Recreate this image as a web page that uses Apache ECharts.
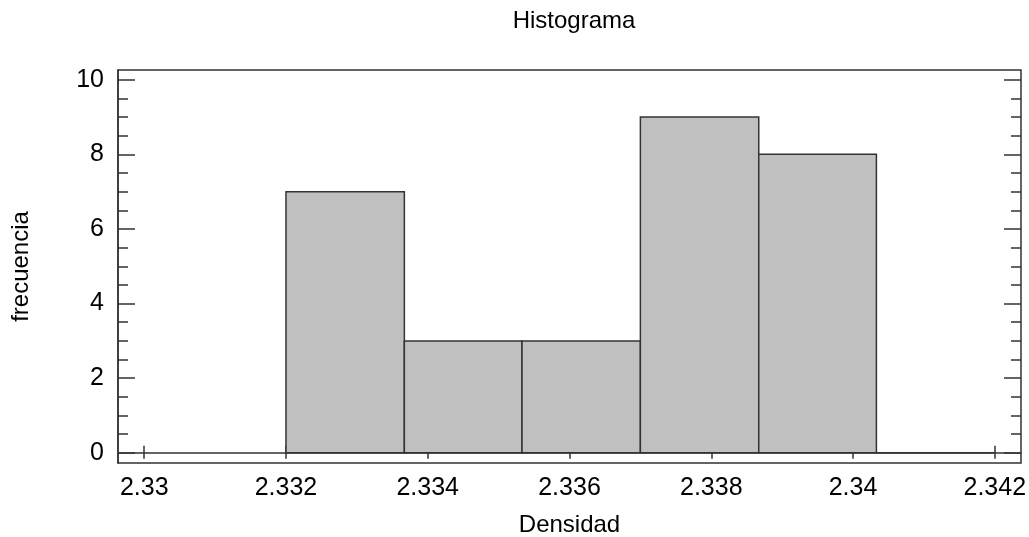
<!DOCTYPE html>
<html>
<head>
<meta charset="utf-8">
<script src="https://cdn.jsdelivr.net/npm/echarts@6/dist/echarts.min.js"></script>
<style>html,body{margin:0;padding:0;background:#fff;}#c{width:1029px;height:537px;}</style>
</head>
<body>
<div id="c"></div>
<script>
const binStart = [2.332, 2.33367, 2.33533, 2.337, 2.33867, 2.34033];
const binEnd   = [2.33367, 2.33533, 2.337, 2.33867, 2.34033, 2.342];
const counts   = [7, 3, 3, 9, 8, 0];
const xTicks = [2.33, 2.332, 2.334, 2.336, 2.338, 2.34, 2.342];
const yTicks = [0, 2, 4, 6, 8, 10];
const yMinorTicks = [0, 0.5, 1, 1.5, 2, 2.5, 3, 3.5, 4, 4.5, 5, 5.5, 6, 6.5, 7, 7.5, 8, 8.5, 9, 9.5, 10];

const FONT = 'Liberation Sans, Arial, sans-serif';
const LINE = '#333';
const xMin = 2.32963, xMax = 2.34237, yMin = -0.273, yMax = 10.26;

const chart = echarts.init(document.getElementById('c'), null, {renderer: 'canvas'});
const baseX = {type: 'value', min: xMin, max: xMax, splitLine: {show: false}};
const baseY = {type: 'value', min: yMin, max: yMax, splitLine: {show: false}};

chart.setOption({
  animation: false,
  backgroundColor: '#fff',
  title: {text: 'Histograma', left: 569, textAlign: 'center', top: 4,
    textStyle: {fontFamily: FONT, fontSize: 24, fontWeight: 'normal', color: '#000'}},
  grid: {left: 118, right: 8, top: 70, bottom: 74, show: true, borderColor: LINE, borderWidth: 1.5,
    containLabel: false, outerBoundsMode: 'none'},
  xAxis: [
    Object.assign({}, baseX, {position: 'bottom', name: 'Densidad', nameLocation: 'middle', nameGap: 50,
      nameTextStyle: {fontFamily: FONT, fontSize: 24, color: '#000'},
      axisLine: {show: true, lineStyle: {color: LINE, width: 1.5}},
      axisTick: {show: true, inside: true, length: 7, customValues: xTicks, lineStyle: {color: LINE, width: 1.5}},
      axisLabel: {show: true, margin: 13, customValues: xTicks, fontFamily: FONT, fontSize: 25, color: '#000',
        formatter: v => String(+v.toFixed(3))}}),
    Object.assign({}, baseX, {position: 'top',
      axisLine: {show: false},
      axisTick: {show: true, inside: true, length: 6, customValues: xTicks, lineStyle: {color: LINE, width: 1.5}},
      axisLabel: {show: false}})
  ],
  yAxis: [
    Object.assign({}, baseY, {position: 'left', name: 'frecuencia', nameLocation: 'middle', nameGap: 85,
      nameTextStyle: {fontFamily: FONT, fontSize: 24, color: '#000'},
      axisLine: {show: true, lineStyle: {color: LINE, width: 1.5}},
      axisTick: {show: true, inside: true, length: 17, customValues: yTicks, lineStyle: {color: LINE, width: 1.5}},
      axisLabel: {show: true, margin: 14, customValues: yTicks, fontFamily: FONT, fontSize: 25, color: '#000'}}),
    Object.assign({}, baseY, {position: 'left', offset: 0,
      axisLine: {show: false},
      axisTick: {show: true, inside: true, length: 10, customValues: yMinorTicks, lineStyle: {color: LINE, width: 1.5}},
      axisLabel: {show: false}}),
    Object.assign({}, baseY, {position: 'right',
      axisLine: {show: false},
      axisTick: {show: true, inside: true, length: 17, customValues: yTicks, lineStyle: {color: LINE, width: 1.5}},
      axisLabel: {show: false}}),
    Object.assign({}, baseY, {position: 'right',
      axisLine: {show: false},
      axisTick: {show: true, inside: true, length: 10, customValues: yMinorTicks, lineStyle: {color: LINE, width: 1.5}},
      axisLabel: {show: false}})
  ],
  series: [{
    type: 'custom',
    xAxisIndex: 0, yAxisIndex: 0,
    data: counts.map((c, i) => [binStart[i], binEnd[i], c]),
    renderItem: function (params, api) {
      const p0 = api.coord([api.value(0), 0]);
      const p1 = api.coord([api.value(1), api.value(2)]);
      return {
        type: 'rect',
        shape: {x: p0[0], y: p1[1], width: p1[0] - p0[0], height: p0[1] - p1[1]},
        style: {fill: '#c0c0c0', stroke: LINE, lineWidth: 1.5}
      };
    },
    encode: {x: [0, 1], y: 2}
  }]
});
</script>
</body>
</html>
